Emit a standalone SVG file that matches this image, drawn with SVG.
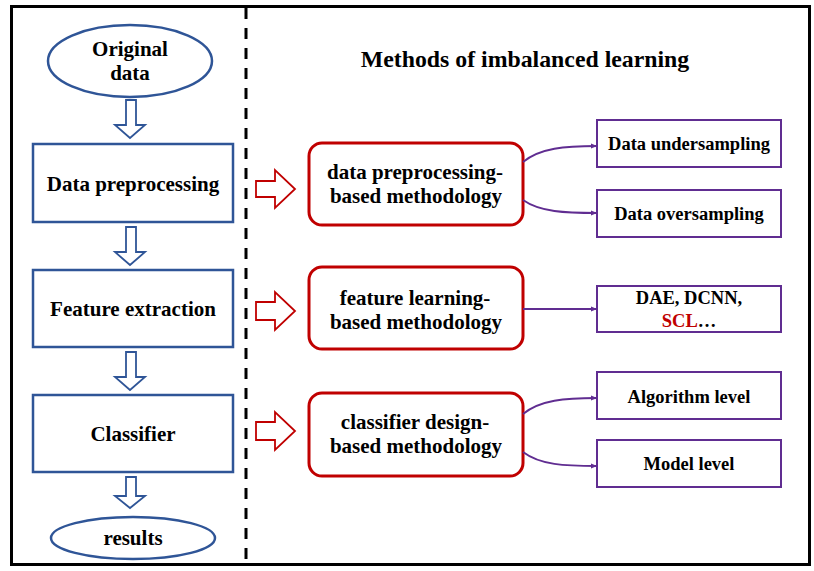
<svg xmlns="http://www.w3.org/2000/svg" width="814" height="571" viewBox="0 0 814 571">
<defs>
<style>
.blue{fill:#fff;stroke:#2F5597;stroke-width:2.5}
.barrow{fill:#fff;stroke:#2F5597;stroke-width:1.8}
.red{fill:#fff;stroke:#C00000;stroke-width:3}
.rarrow{fill:#fff;stroke:#C00000;stroke-width:1.8}
.pur{fill:#fff;stroke:#602D91;stroke-width:2}
.conn{fill:none;stroke:#602D91;stroke-width:1.8;marker-end:url(#ah)}
</style>
<marker id="ah" viewBox="0 0 10 10" refX="10" refY="5" markerWidth="6" markerHeight="6" markerUnits="userSpaceOnUse" orient="auto"><path d="M0,1 L10,5 L0,9 z" fill="#602D91"/></marker>
</defs>
<rect width="814" height="571" fill="#fff"/>
<rect x="11.5" y="6.5" width="798" height="558" fill="none" stroke="#000" stroke-width="3"/>
<line x1="246" y1="8" x2="246" y2="564" stroke="#000" stroke-width="3" stroke-dasharray="11,9"/>
<g font-family="Liberation Serif" font-weight="bold" text-anchor="middle" fill="#000">
<g font-size="21">
<g id="original-data"><ellipse class="blue" cx="130" cy="61" rx="82" ry="36"/><text x="130" y="56">Original</text><text x="130" y="80">data</text></g>
<g id="data-preprocessing"><rect class="blue" x="33" y="144" width="200" height="78"/><text x="133" y="191">Data preprocessing</text></g>
<g id="feature-extraction"><rect class="blue" x="33" y="270" width="200" height="77"/><text x="133" y="316">Feature extraction</text></g>
<g id="classifier"><rect class="blue" x="33" y="395" width="200" height="77"/><text x="133" y="441">Classifier</text></g>
<g id="results"><ellipse class="blue" cx="133" cy="538" rx="82" ry="21"/><text x="133" y="545">results</text></g>
</g>
<g id="title"><text x="525" y="67" font-size="23.8">Methods of imbalanced learning</text></g>
<g font-size="21">
<g id="m-data"><rect class="red" x="309" y="143" width="214" height="82" rx="13"/><text x="415" y="179">data preprocessing-</text><text x="416" y="203">based methodology</text></g>
<g id="m-feature"><rect class="red" x="309" y="267" width="214" height="82" rx="13"/><text x="415" y="305">feature learning-</text><text x="416" y="329">based methodology</text></g>
<g id="m-classifier"><rect class="red" x="309" y="393" width="214" height="83" rx="13"/><text x="415" y="429">classifier design-</text><text x="416" y="453">based methodology</text></g>
</g>
<g font-size="18.5">
<g id="undersampling"><rect class="pur" x="597" y="120" width="184" height="47"/><text x="689" y="150">Data undersampling</text></g>
<g id="oversampling"><rect class="pur" x="597" y="190" width="184" height="47"/><text x="689" y="220">Data oversampling</text></g>
<g id="dae"><rect class="pur" x="597" y="286" width="184" height="46"/><text x="689" y="304">DAE, DCNN,</text><text x="689" y="327"><tspan fill="#C00000">SCL</tspan>…</text></g>
<g id="algorithm"><rect class="pur" x="597" y="372" width="184" height="47"/><text x="689" y="403">Algorithm level</text></g>
<g id="model"><rect class="pur" x="597" y="440" width="184" height="47"/><text x="689" y="470">Model level</text></g>
</g>
</g>
<g id="connectors">
<path class="barrow" d="M126,100 H136 V125 H145 L130,138 L115,125 H126 Z"/>
<path class="barrow" d="M126,227 H136 V252 H145 L130,265 L115,252 H126 Z"/>
<path class="barrow" d="M126,352 H136 V377 H145 L130,390 L115,377 H126 Z"/>
<path class="barrow" d="M126,477 H136 V496 H145 L130,508 L115,496 H126 Z"/>
<path class="rarrow" d="M256,181 H275 V170 L295,189 L275,208 V197 H256 Z"/>
<path class="rarrow" d="M256,302 H275 V292 L295,311 L275,330 V320 H256 Z"/>
<path class="rarrow" d="M256,422 H275 V412 L295,431 L275,450 V440 H256 Z"/>
<path class="conn" d="M523,162 C540,148 565,146 597,146"/>
<path class="conn" d="M523,200 C540,212 565,213 597,213"/>
<path class="conn" d="M523,309 H597"/>
<path class="conn" d="M523,414 C540,400 565,398 597,398"/>
<path class="conn" d="M523,452 C540,465 565,466 597,466"/>
</g>
</svg>
